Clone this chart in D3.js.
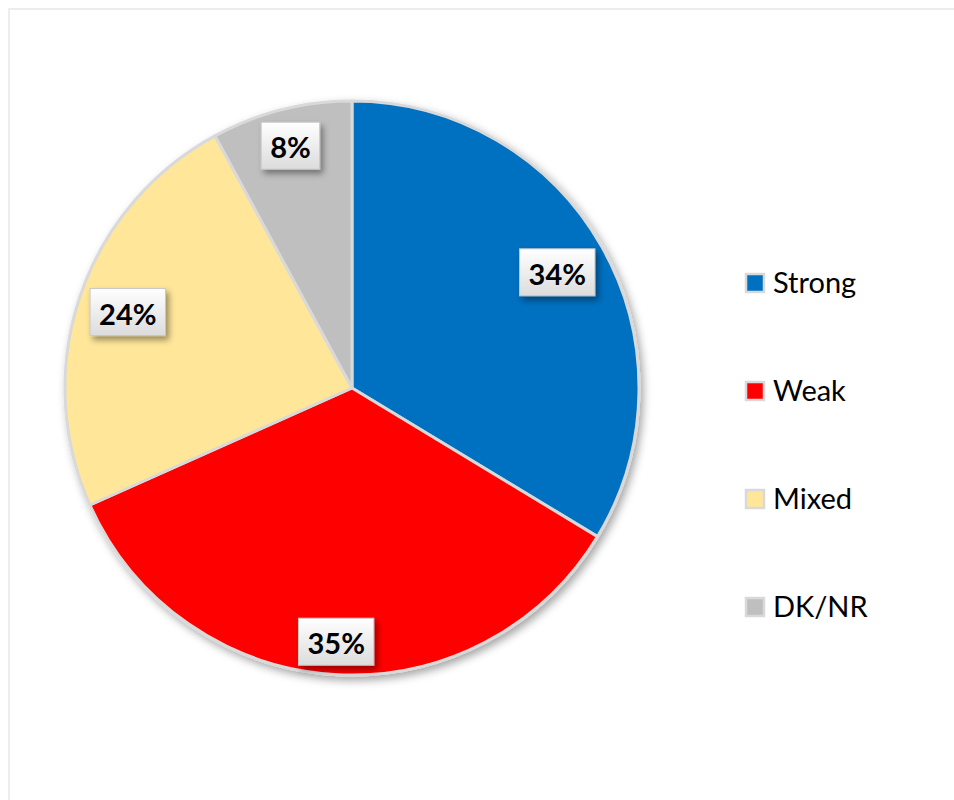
<!DOCTYPE html>
<html>
<head>
<meta charset="utf-8">
<script src="https://cdn.jsdelivr.net/npm/d3@7"></script>
<style>
  html, body { margin: 0; padding: 0; background: #fff; }
  svg { display: block; }
</style>
</head>
<body>
<div id="chart"></div>
<script>
// ─── Data ─────────────────────────────────────────────────────────────────────
const categories = ['Strong', 'Weak', 'Mixed', 'DK/NR']
const values = [34, 35, 24, 8]
const colors = ['#0070C0', '#FF0000', '#FFE699', '#BFBFBF']

// ─── Layout ───────────────────────────────────────────────────────────────────
const W = 954, H = 800
const cx = 352, cy = 388, R = 287

const svg = d3.select('#chart').append('svg')
  .attr('width', W).attr('height', H)

const defs = svg.append('defs')

const mkShadow = (id, dx, dy, blur, op) => {
  const f = defs.append('filter')
    .attr('id', id)
    .attr('x', '-20%').attr('y', '-20%')
    .attr('width', '150%').attr('height', '150%')
  f.append('feDropShadow')
    .attr('dx', dx).attr('dy', dy)
    .attr('stdDeviation', blur)
    .attr('flood-color', '#000')
    .attr('flood-opacity', op)
}
mkShadow('pie-shadow', 3, 4, 4, 0.35)
mkShadow('lbl-shadow', 3, 4, 3, 0.4)

const grad = defs.append('linearGradient')
  .attr('id', 'lbl-grad')
  .attr('x1', 0).attr('y1', 0).attr('x2', 0).attr('y2', 1)
grad.append('stop').attr('offset', '0%').attr('stop-color', '#ffffff')
grad.append('stop').attr('offset', '100%').attr('stop-color', '#dcdcdc')

// Chart frame
svg.append('rect')
  .attr('x', 9).attr('y', 9)
  .attr('width', W + 20).attr('height', H + 20)
  .attr('fill', '#fff')
  .attr('stroke', '#ededed')
  .attr('stroke-width', 2)

// ─── Pie ──────────────────────────────────────────────────────────────────────
const pie = d3.pie().sort(null).value(d => d)
const arcs = pie(values)
const arc = d3.arc().innerRadius(0).outerRadius(R)

const g = svg.append('g').attr('transform', `translate(${cx},${cy})`)

g.append('g')
  .attr('filter', 'url(#pie-shadow)')
  .selectAll('path')
  .data(arcs)
  .join('path')
  .attr('d', arc)
  .attr('fill', (d, i) => colors[i])
  .attr('stroke', '#D9D9D9')
  .attr('stroke-width', 3)
  .attr('stroke-linejoin', 'round')

// ─── Data labels (inside end) ─────────────────────────────────────────────────
const labelFont = 'Lato, "Open Sans", sans-serif'
const pad = 7

const lbl = g.append('g')
  .selectAll('g')
  .data(arcs)
  .join('g')

lbl.each(function(d) {
  const el = d3.select(this)
  const txt = el.append('text')
    .text(d3.format('d')(d.data) + '%')
    .attr('text-anchor', 'middle')
    .attr('dominant-baseline', 'central')
    .attr('font-family', labelFont)
    .attr('font-weight', 700)
    .attr('font-size', '29px')
    .attr('fill', '#000')
  const tw = txt.node().getComputedTextLength()
  const bw = tw + 18, bh = 47
  const a = (d.startAngle + d.endAngle) / 2
  const sx = Math.sin(a), sy = -Math.cos(a)
  const ext = bw / 2 * Math.abs(sx) + bh / 2 * Math.abs(sy)
  const r = R - pad - ext
  el.attr('transform', `translate(${r * sx},${r * sy})`)
  el.insert('rect', 'text')
    .attr('x', -bw / 2).attr('y', -bh / 2)
    .attr('width', bw).attr('height', bh)
    .attr('fill', 'url(#lbl-grad)')
    .attr('stroke', '#c8c8c8')
    .attr('stroke-width', 1)
    .attr('filter', 'url(#lbl-shadow)')
  txt.attr('y', 1)
})

// ─── Legend ───────────────────────────────────────────────────────────────────
const legY = d3.scalePoint().domain(categories).range([283, 607])

const leg = svg.append('g')
  .selectAll('g')
  .data(categories)
  .join('g')
  .attr('transform', d => `translate(746,${legY(d)})`)

leg.append('rect')
  .attr('x', 0).attr('y', -9)
  .attr('width', 18).attr('height', 18)
  .attr('fill', (d, i) => colors[i])
  .attr('stroke', '#D9D9D9')
  .attr('stroke-width', 2.5)

leg.append('text')
  .text(d => d)
  .attr('x', 27)
  .attr('dominant-baseline', 'central')
  .attr('y', -2)
  .attr('font-family', labelFont)
  .attr('font-size', '29px')
  .attr('fill', '#000')
</script>
</body>
</html>
